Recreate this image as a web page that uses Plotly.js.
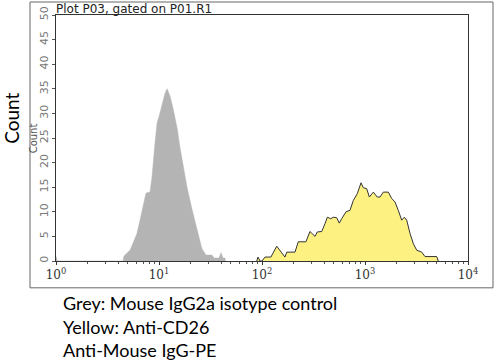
<!DOCTYPE html>
<html>
<head>
<meta charset="utf-8">
<script src="https://cdn.plot.ly/plotly-3.0.1.min.js"></script>
<style>html,body{margin:0;padding:0;background:#fff;}</style>
</head>
<body>
<div id="chart" style="width:499px;height:360px;"></div>
<script>
// Grey: Mouse IgG2a isotype control (fluorescence, count)
const greyX = [1.0, 1.0, 1.03, 4.47, 4.57, 5.23, 5.59, 6.11, 6.54, 7.0, 7.48, 8.18, 8.55, 9.15, 9.57, 10.2, 10.9, 11.4, 12.0, 12.8, 13.7, 15.0, 16.0, 17.1, 18.7, 20.9, 23.4, 26.1, 28.6, 32.7, 34.2, 38.3, 40.0, 41.8, 43.7, 44.2];
const greyCount = [0, 0.9, 0, 0, 1.0, 2.2, 3.6, 5.6, 8.3, 11, 13.8, 14, 17, 24, 28, 30, 32.5, 34, 35, 33.5, 31, 27, 23, 19.5, 15, 10.5, 6.3, 2.5, 1.2, 1.2, 0.6, 0.6, 1.7, 0.6, 0.6, 0];
// Yellow: Anti-CD26
const yellowX = [88.9, 91.5, 95.7, 100, 107, 122, 139, 155, 167, 174, 209, 225, 267, 292, 327, 344, 380, 409, 431, 465, 493, 531, 563, 594, 654, 715, 770, 842, 915, 962, 1039, 1102, 1205, 1316, 1399, 1506, 1684, 1817, 1955, 2105, 2271, 2408, 2541, 2736, 2947, 3177, 3551, 3825, 4966, 5150];
const yellowCount = [0, 0.8, 0, 0, 0.8, 0.8, 3, 1.6, 0.8, 1.8, 1.8, 3.9, 3.9, 6, 5, 5.9, 6, 7.6, 8.9, 8.6, 8.9, 8.8, 7.7, 8.6, 10, 10.3, 12.3, 13.7, 15.9, 14.9, 14.7, 13, 14, 13, 13, 14, 14, 12.7, 12, 10.3, 8.3, 8.9, 8.3, 5.6, 3.5, 2.2, 1.8, 0.9, 0.9, 0];

const xTickVals = [1, 10, 100, 1000, 10000];
const xTickText = ['10<sup>0</sup>', '10<sup>1</sup>', '10<sup>2</sup>', '10<sup>3</sup>', '10<sup>4</sup>'];
const yTickVals = [0, 5, 10, 15, 20, 25, 30, 35, 40, 45, 50];
const minorVals = [];
[1, 10, 100, 1000].forEach(d => { for (let k = 2; k <= 9; k++) minorVals.push(d * k); });

const captionLines = ['Grey: Mouse IgG2a isotype control', 'Yellow: Anti-CD26', 'Anti-Mouse IgG-PE'];

const traces = [
  {x: greyX, y: greyCount, type: 'scatter', mode: 'lines', fill: 'tozeroy',
   fillcolor: '#b4b4b4', line: {color: '#b4b4b4', width: 0.5}, hoverinfo: 'skip'},
  {x: yellowX, y: yellowCount, type: 'scatter', mode: 'lines', fill: 'tozeroy',
   fillcolor: '#fdf182', line: {color: '#333333', width: 1}, hoverinfo: 'skip'}
];

const annotations = [
  {text: 'Count', xref: 'paper', yref: 'paper', x: -0.108, y: 0.58, textangle: -90,
   showarrow: false, font: {family: 'Lato, sans-serif', size: 19, color: '#000'}, xanchor: 'center', yanchor: 'middle'},
  {text: 'Count', xref: 'paper', yref: 'paper', x: -0.055, y: 0.5, textangle: -90,
   showarrow: false, font: {family: 'DejaVu Sans, sans-serif', size: 10, color: '#555'}, xanchor: 'center', yanchor: 'middle'},
  {text: 'Plot P03, gated on P01.R1', xref: 'paper', yref: 'paper', x: 0.0, y: 1.0, xanchor: 'left', yanchor: 'bottom',
   showarrow: false, font: {family: 'DejaVu Sans, sans-serif', size: 12, color: '#222'}, yshift: -3, xshift: -2}
];
captionLines.forEach((t, i) => {
  annotations.push({text: t, xref: 'paper', yref: 'paper', x: 0.012, y: -0.171 - i * 0.0955,
    xanchor: 'left', yanchor: 'middle', showarrow: false,
    font: {family: 'Lato, sans-serif', size: 18, color: '#000'}});
});

const layout = {
  width: 499, height: 360,
  margin: {l: 56, r: 31, t: 15, b: 99},
  paper_bgcolor: '#fff', plot_bgcolor: '#fff',
  showlegend: false,
  xaxis: {type: 'log', range: [0, 4], tickmode: 'array', tickvals: xTickVals, ticktext: xTickText,
    ticks: 'outside', ticklen: 3, tickcolor: '#333', showline: true, linecolor: '#333', linewidth: 1,
    mirror: true, showgrid: false, zeroline: false,
    tickfont: {family: 'DejaVu Serif, serif', size: 12, color: '#333'},
    minor: {tickmode: 'array', tickvals: minorVals, ticks: 'outside', ticklen: 2, tickcolor: '#555', showgrid: false}},
  yaxis: {range: [0, 50], tickmode: 'array', tickvals: yTickVals, tickangle: -90,
    ticks: 'outside', ticklen: 3, tickcolor: '#555', showline: true, linecolor: '#333', linewidth: 1,
    mirror: true, showgrid: false, zeroline: false,
    tickfont: {family: 'DejaVu Sans, sans-serif', size: 11, color: '#777'}},
  annotations: annotations,
  shapes: [
    {type: 'rect', xref: 'paper', yref: 'paper', x0: -0.0631, x1: 1.0607, y0: -0.109, y1: 1.0528,
     line: {color: '#666', width: 1}, fillcolor: 'rgba(0,0,0,0)', layer: 'below'}
  ]
};

Plotly.newPlot('chart', traces, layout, {displayModeBar: false, staticPlot: true});
</script>
</body>
</html>
